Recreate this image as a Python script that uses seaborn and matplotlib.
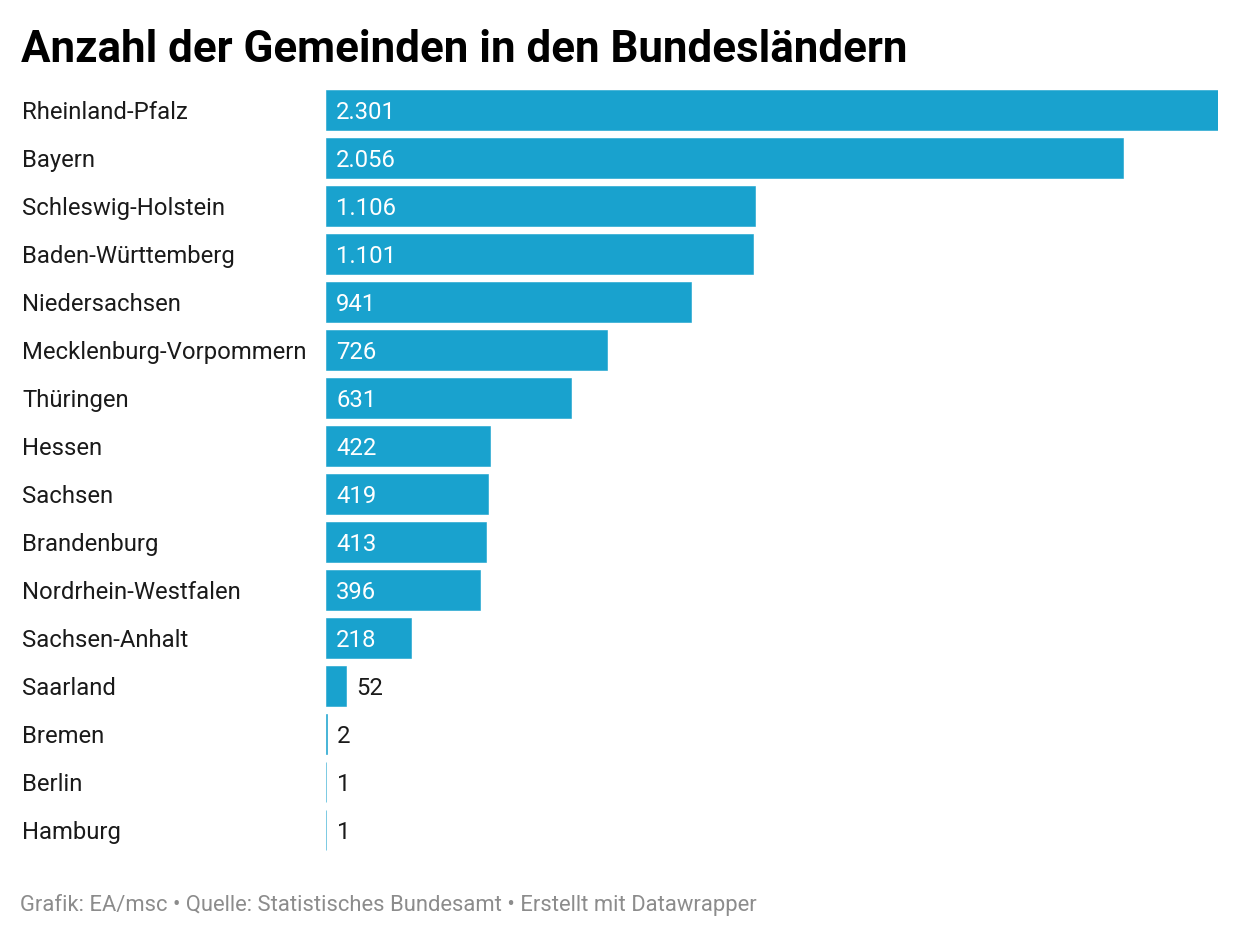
import matplotlib
matplotlib.use("Agg")
import matplotlib.pyplot as plt
import matplotlib.transforms as mtransforms
import seaborn as sns
import pandas as pd

# Daten
laender = ["Rheinland-Pfalz", "Bayern", "Schleswig-Holstein", "Baden-Württemberg",
           "Niedersachsen", "Mecklenburg-Vorpommern", "Thüringen", "Hessen",
           "Sachsen", "Brandenburg", "Nordrhein-Westfalen", "Sachsen-Anhalt",
           "Saarland", "Bremen", "Berlin", "Hamburg"]
gemeinden = [2301, 2056, 1106, 1101, 941, 726, 631, 422, 419, 413, 396, 218, 52, 2, 1, 1]

titel = "Anzahl der Gemeinden in den Bundesländern"
fusszeile = "Grafik: EA/msc • Quelle: Statistisches Bundesamt • Erstellt mit Datawrapper"

df = pd.DataFrame({"land": laender, "anzahl": gemeinden})

sns.set_theme(style="white")
plt.rcParams["font.family"] = ["Roboto", "DejaVu Sans"]

W, H = 1240, 936
fig = plt.figure(figsize=(W / 100, H / 100), dpi=100)
top_px, bot_px = 86, 854
ax = fig.add_axes([326 / W, 1 - bot_px / H, (1218 - 326) / W, (bot_px - top_px) / H])

farbe = "#19a2ce"
sns.barplot(data=df, x="anzahl", y="land", orient="h", color=farbe, width=39.6 / 48,
            edgecolor=farbe, linewidth=0.4, saturation=1, ax=ax)

ax.set_xlim(0, max(gemeinden))
ax.set_ylim(len(laender) - 0.5, -0.5)
ax.set_axis_off()

# Beschriftungen links
trans = mtransforms.blended_transform_factory(fig.transFigure, ax.transData)
for i, land in enumerate(laender):
    ax.text(22 / W, i + 0.05, land, transform=trans, ha="left", va="center",
            fontsize=17.2, color="#1a1a1a")

# Werte
for i, v in enumerate(gemeinden):
    txt = f"{v:,}".replace(",", ".")
    if v >= 150:
        ax.annotate(txt, (0, i), xytext=(7.2, -1.7), textcoords="offset points",
                    ha="left", va="center", fontsize=17.2, color="white")
    else:
        ax.annotate(txt, (v, i), xytext=(7.6, -1.7), textcoords="offset points",
                    ha="left", va="center", fontsize=17.2, color="#1a1a1a")

fig.text(21 / W, 1 - 50 / H, titel, ha="left", va="center", fontsize=31.6,
         fontweight="bold", color="black")
fig.text(20 / W, 1 - 905 / H, fusszeile, ha="left", va="center", fontsize=15.8,
         color="#8c8c8c")

fig.savefig("out.png", dpi=100)
